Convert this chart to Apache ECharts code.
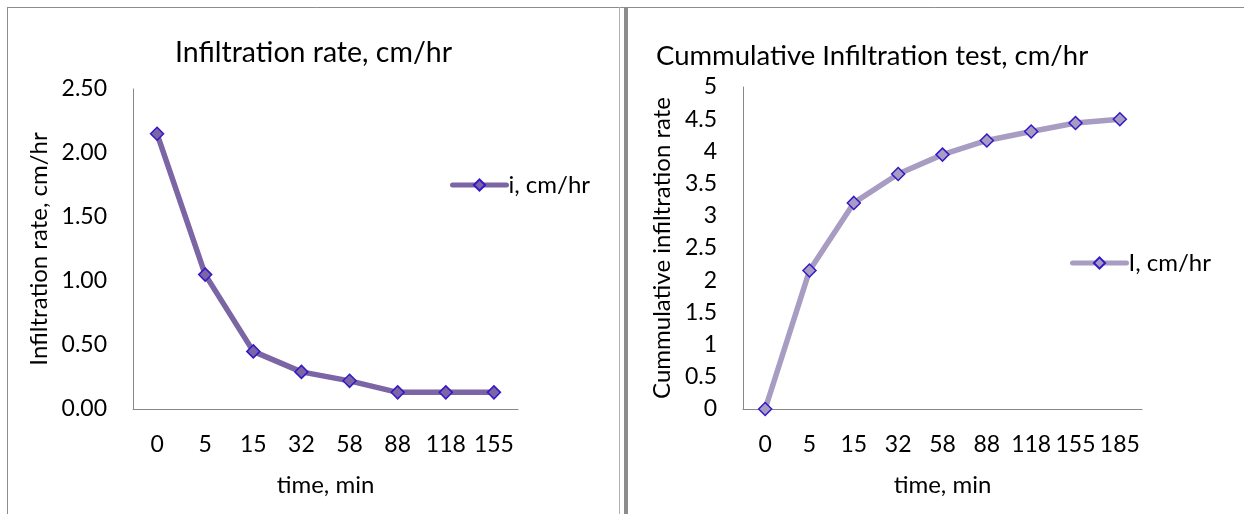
<!DOCTYPE html>
<html>
<head>
<meta charset="utf-8">
<script src="https://cdn.jsdelivr.net/npm/echarts@6/dist/echarts.min.js"></script>
<style>
html,body{margin:0;padding:0;background:#fff;}
#c{width:1244px;height:514px;}
</style>
</head>
<body>
<div id="c"></div>
<script>
// Left chart: infiltration rate
const timeLeft = ['0','5','15','32','58','88','118','155'];
const rateValues = [2.15, 1.05, 0.45, 0.29, 0.22, 0.13, 0.13, 0.13];
// Right chart: cumulative infiltration
const timeRight = ['0','5','15','32','58','88','118','155','185'];
const cumValues = [0, 2.15, 3.20, 3.65, 3.95, 4.17, 4.31, 4.44, 4.50];

const FONT = 'Lato';
const axisColor = '#888888';

const chart = echarts.init(document.getElementById('c'), null, {renderer: 'canvas'});
chart.setOption({
  backgroundColor: '#ffffff',
  animation: false,
  textStyle: {fontFamily: FONT, color: '#000'},
  title: [
    {text: 'Infiltration rate, cm/hr', left: 170, top: 33,
     textStyle: {fontFamily: FONT, fontSize: 28.5, fontWeight: 'normal', color: '#000'}},
    {text: 'Cummulative Infiltration test, cm/hr', left: 651, top: 37,
     textStyle: {fontFamily: FONT, fontSize: 27.5, fontWeight: 'normal', color: '#000'}}
  ],
  legend: [
    {data: ['i, cm/hr'], left: 450, top: 173, orient: 'vertical', padding: 0,
     itemWidth: 54, itemHeight: 14, itemGap: 4,
     lineStyle: {width: 5, cap: 'round'},
     textStyle: {fontFamily: FONT, fontSize: 24, color: '#000', padding: [0,0,0,-3]}},
    {data: ['I, cm/hr'], left: 1070, top: 251, orient: 'vertical', padding: 0,
     itemWidth: 54, itemHeight: 14, itemGap: 4,
     lineStyle: {width: 5, cap: 'round'},
     textStyle: {fontFamily: FONT, fontSize: 24, color: '#000', padding: [0,0,0,-3]}}
  ],
  grid: [
    {left: 133, top: 89, width: 385, height: 320},
    {left: 743, top: 87, width: 399, height: 322}
  ],
  xAxis: [
    {type: 'category', gridIndex: 0, data: timeLeft, boundaryGap: true,
     name: 'time, min', nameLocation: 'middle', nameGap: 64,
     nameTextStyle: {fontFamily: FONT, fontSize: 24, color: '#000'},
     axisLine: {lineStyle: {color: axisColor, width: 1}},
     axisTick: {show: false},
     axisLabel: {fontFamily: FONT, fontSize: 23, color: '#000', margin: 24, interval: 0}},
    {type: 'category', gridIndex: 1, data: timeRight, boundaryGap: true,
     name: 'time, min', nameLocation: 'middle', nameGap: 64,
     nameTextStyle: {fontFamily: FONT, fontSize: 24, color: '#000'},
     axisLine: {lineStyle: {color: axisColor, width: 1}},
     axisTick: {show: false},
     axisLabel: {fontFamily: FONT, fontSize: 23, color: '#000', margin: 24, interval: 0}}
  ],
  yAxis: [
    {type: 'value', gridIndex: 0, min: 0, max: 2.5, interval: 0.5,
     name: 'Infiltration rate, cm/hr', nameLocation: 'middle', nameGap: 82,
     nameTextStyle: {fontFamily: FONT, fontSize: 24, color: '#000'},
     axisLine: {show: true, lineStyle: {color: axisColor, width: 1}},
     axisTick: {show: false}, splitLine: {show: false},
     axisLabel: {fontFamily: FONT, fontSize: 23, color: '#000', margin: 26,
                 formatter: v => v.toFixed(2)}},
    {type: 'value', gridIndex: 1, min: 0, max: 5, interval: 0.5,
     name: 'Cummulative infiltration rate', nameLocation: 'middle', nameGap: 69,
     nameTextStyle: {fontFamily: FONT, fontSize: 24, color: '#000'},
     axisLine: {show: true, lineStyle: {color: axisColor, width: 1}},
     axisTick: {show: false}, splitLine: {show: false},
     axisLabel: {fontFamily: FONT, fontSize: 23, color: '#000', margin: 26}}
  ],
  series: [
    {name: 'i, cm/hr', type: 'line', xAxisIndex: 0, yAxisIndex: 0, data: rateValues,
     symbol: 'diamond', symbolSize: 13,
     lineStyle: {color: '#7b65a5', width: 5.5},
     itemStyle: {color: '#7b65a5', borderColor: '#3518c8', borderWidth: 1.5}},
    {name: 'I, cm/hr', type: 'line', xAxisIndex: 1, yAxisIndex: 1, data: cumValues,
     symbol: 'diamond', symbolSize: 13,
     lineStyle: {color: '#a89cc2', width: 5.5},
     itemStyle: {color: '#a89cc2', borderColor: '#3518c8', borderWidth: 1.5}}
  ],
  graphic: [
    {type: 'line', shape: {x1: 7, y1: 7.5, x2: 1244, y2: 7.5}, style: {stroke: '#8c8c8c', lineWidth: 1}},
    {type: 'line', shape: {x1: 7.5, y1: 7, x2: 7.5, y2: 514}, style: {stroke: '#8c8c8c', lineWidth: 1}},
    {type: 'line', shape: {x1: 619.5, y1: 7, x2: 619.5, y2: 514}, style: {stroke: '#b0b0b0', lineWidth: 1}},
    {type: 'line', shape: {x1: 626, y1: 7, x2: 626, y2: 514}, style: {stroke: '#8c8c8c', lineWidth: 4}}
  ]
});
</script>
</body>
</html>
